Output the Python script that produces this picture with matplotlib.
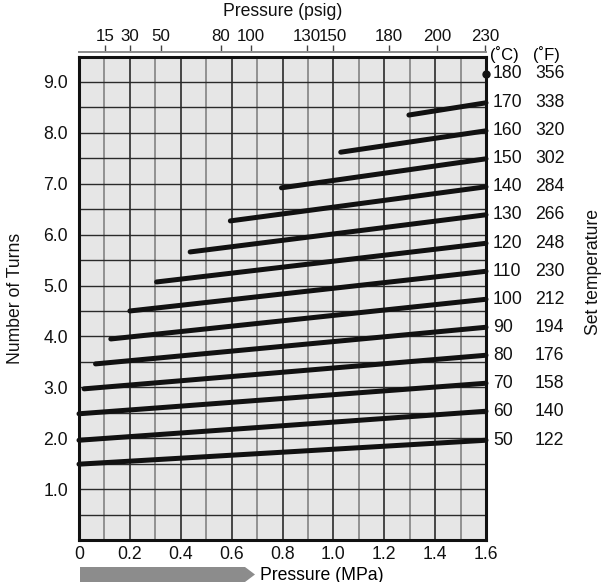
import matplotlib
matplotlib.use("Agg")
import matplotlib.pyplot as plt
from matplotlib.patches import Polygon
import numpy as np

plt.rcParams['font.family'] = ['Liberation Sans', 'DejaVu Sans']

# Data
temps_c = [50, 60, 70, 80, 90, 100, 110, 120, 130, 140, 150, 160, 170, 180]
temps_f = [122, 140, 158, 176, 194, 212, 230, 248, 266, 284, 302, 320, 338, 356]
start_mpa = [0.0, 0.0, 0.0, 0.02, 0.065, 0.125, 0.2, 0.305, 0.437, 0.595, 0.796, 1.029, 1.297, 1.6]
start_turns = [1.49, 1.96, 2.48, 2.97, 3.46, 3.95, 4.5, 5.07, 5.66, 6.27, 6.92, 7.62, 8.35, 9.16]
end_mpa = [1.6] * 14
end_turns = [1.96, 2.53, 3.08, 3.63, 4.18, 4.73, 5.28, 5.83, 6.39, 6.94, 7.49, 8.04, 8.59, 9.16]

mpa_ticks = [0, 0.2, 0.4, 0.6, 0.8, 1.0, 1.2, 1.4, 1.6]
mpa_labels = ["0", "0.2", "0.4", "0.6", "0.8", "1.0", "1.2", "1.4", "1.6"]
turn_ticks = [1, 2, 3, 4, 5, 6, 7, 8, 9]
turn_labels = ["1.0", "2.0", "3.0", "4.0", "5.0", "6.0", "7.0", "8.0", "9.0"]
psig_labels = ["15", "30", "50", "80", "100", "130", "150", "180", "200", "230"]
psig_pos_mpa = [0.101, 0.200, 0.322, 0.558, 0.676, 0.896, 0.998, 1.219, 1.409, 1.596]

FS = 12.7

fig = plt.figure(figsize=(6.12, 5.82), dpi=100)
ax = fig.add_axes([79/612, 1 - 540/582, (486-79)/612, (540-56.5)/582])
ax.set_xlim(0, 1.6)
ax.set_ylim(0, 9.5)
ax.set_facecolor('#e6e6e6')

# grid
for i in range(1, 16):
    x = i * 0.1
    col = '#1a1a1a' if i % 2 == 0 else '#7a7a7a'
    ax.axvline(x, color=col, lw=1.1, zorder=1)
for j in range(1, 19):
    y = j * 0.5
    ax.axhline(y, color='#2a2a2a', lw=1.0, zorder=1)

# lines
for c, x0, y0, x1, y1 in zip(temps_c, start_mpa, start_turns, end_mpa, end_turns):
    if x0 < x1:
        ax.plot([x0, x1], [y0, y1], color='#111111', lw=3.6, solid_capstyle='round',
                zorder=3, clip_on=False)
    else:
        ax.plot([x1], [y1], 'o', color='#111111', ms=5, zorder=4, clip_on=False)

for s in ax.spines.values():
    s.set_linewidth(2.2)
    s.set_color('#111111')

ax.set_xticks(mpa_ticks)
ax.set_xticklabels(mpa_labels)
ax.set_yticks(turn_ticks)
ax.set_yticklabels(turn_labels)
ax.tick_params(axis='both', length=0, labelsize=FS, colors='#111111', pad=8)
ax.tick_params(axis='x', pad=4)
ax.set_ylabel("Number of Turns", fontsize=FS, labelpad=14, color='#111111')

# top psig axis
sec = ax.secondary_xaxis('top')
sec.set_xticks(psig_pos_mpa)
sec.set_xticklabels(psig_labels)
sec.spines['top'].set_position(('outward', 3))
sec.spines['top'].set_color('#8a8a8a')
sec.spines['top'].set_linewidth(1.4)
sec.tick_params(axis='x', length=5, width=1, labelsize=12.2, pad=1,
                colors='#111111')
sec.tick_params(axis='x', color='#444444')
fig.text(283/612, 1 - 12/582, "Pressure (psig)", fontsize=FS, ha='center', va='center',
         color='#111111')

# right labels
for c, f, y in zip(temps_c, temps_f, end_turns):
    ax.text(1.6 + 0.028, y, str(c), fontsize=FS, va='center', ha='left', color='#111111')
    ax.text(1.6 + 0.193, y, str(f), fontsize=FS, va='center', ha='left', color='#111111')
ax.text(1.6 + 0.016, 9.53, "(˚C)", fontsize=12, va='center', ha='left')
ax.text(1.6 + 0.185, 9.53, "(˚F)", fontsize=12, va='center', ha='left')
fig.text(594/612, 1 - 272/582, "Set temperature", rotation=90, fontsize=FS,
         ha='center', va='center', color='#111111')

# bottom arrow
arrow = Polygon([[80/612, 1-567/582], [245/612, 1-567/582], [255/612, 1-574.5/582],
                 [245/612, 1-582/582], [80/612, 1-582/582]],
                closed=True, transform=fig.transFigure, color='#8c8c8c', lw=0)
fig.patches.append(arrow)
fig.text(260/612, 1 - 575/582, "Pressure (MPa)", fontsize=FS, ha='left', va='center')

fig.savefig("out.png", dpi=100)
